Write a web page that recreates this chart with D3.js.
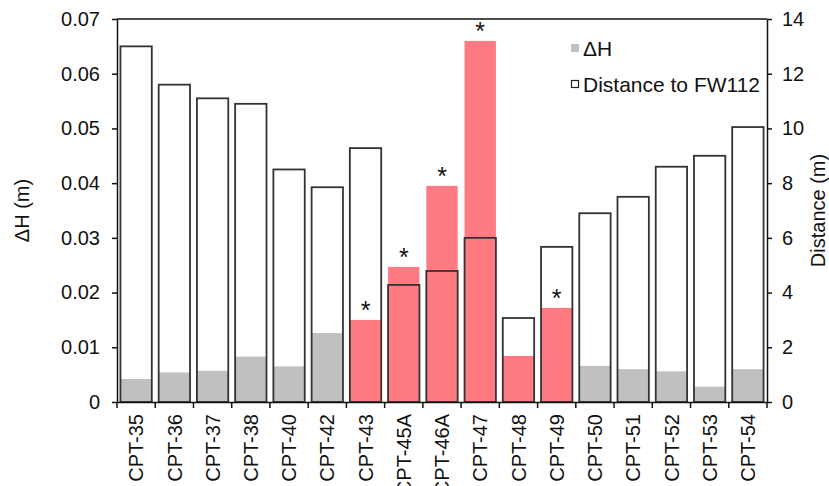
<!DOCTYPE html>
<html>
<head>
  <script src="https://d3js.org/d3.v7.min.js"></script>
  <style>
    body { margin: 0; background: #fff; }
    text { font-family: "Liberation Sans", Arial, sans-serif; fill: #111; }
  </style>
</head>
<body>
<svg width="829" height="486"></svg>
<script>
  // chart values
  const sites = ["CPT-35", "CPT-36", "CPT-37", "CPT-38", "CPT-40", "CPT-42", "CPT-43", "CPT-45A",
    "CPT-46A", "CPT-47", "CPT-48", "CPT-49", "CPT-50", "CPT-51", "CPT-52", "CPT-53", "CPT-54"];
  const deltaH = [0.0042, 0.0054, 0.0057, 0.0083, 0.0065, 0.0126, 0.015, 0.0247,
    0.0395, 0.066, 0.0084, 0.0172, 0.0066, 0.006, 0.0056, 0.0028, 0.006];
  const distance = [13.0, 11.6, 11.1, 10.9, 8.5, 7.85, 9.28, 4.28,
    4.79, 6.0, 3.07, 5.67, 6.9, 7.5, 8.6, 9.0, 10.05];
  const highlighted = ["CPT-43", "CPT-45A", "CPT-46A", "CPT-47", "CPT-48", "CPT-49"];
  const starred = ["CPT-43", "CPT-45A", "CPT-46A", "CPT-47", "CPT-49"];
  const leftTicks = [0, 0.01, 0.02, 0.03, 0.04, 0.05, 0.06, 0.07];
  const rightTicks = [0, 2, 4, 6, 8, 10, 12, 14];

  const data = sites.map((s, i) => ({ site: s, dh: deltaH[i], dist: distance[i] }));

  const margin = {top: 19, right: 62, bottom: 84, left: 117},
    width = 829 - margin.left - margin.right,
    height = 486 - margin.top - margin.bottom;

  const svg = d3.select("svg")
    .append("g")
    .attr("transform", "translate(" + margin.left + "," + margin.top + ")");

  const x = d3.scaleBand()
    .domain(sites)
    .range([0, width])
    .paddingInner(0.18)
    .paddingOuter(0.09);

  const y = d3.scaleLinear().domain([0, 0.07]).range([height, 0]);
  const y2 = d3.scaleLinear().domain([0, 14]).range([height, 0]);

  // filled ΔH bars
  svg.selectAll(".dh")
    .data(data)
    .join("rect")
      .attr("class", "dh")
      .attr("x", d => x(d.site))
      .attr("width", x.bandwidth())
      .attr("y", d => y(d.dh))
      .attr("height", d => height - y(d.dh))
      .attr("fill", d => highlighted.includes(d.site) ? "#ff7a81" : "#c0c0c0");

  // outlined distance bars on top
  svg.selectAll(".dist")
    .data(data)
    .join("rect")
      .attr("class", "dist")
      .attr("x", d => x(d.site))
      .attr("width", x.bandwidth())
      .attr("y", d => y2(d.dist))
      .attr("height", d => height - y2(d.dist))
      .attr("fill", "none")
      .attr("stroke", "#333")
      .attr("stroke-width", 1.8);

  // significance stars
  svg.selectAll(".star")
    .data(data.filter(d => starred.includes(d.site)))
    .join("text")
      .attr("class", "star")
      .attr("x", d => x(d.site) + x.bandwidth() / 2)
      .attr("y", d => y(d.dh) - 1)
      .attr("text-anchor", "middle")
      .style("font-size", "25px")
      .text("*");

  // axes
  const fmt = d => d === 0 ? "0" : d3.format(".2f")(d);
  const left = svg.append("g")
    .call(d3.axisLeft(y).tickValues(leftTicks).tickFormat(fmt).tickSize(5).tickSizeOuter(0).tickPadding(12));
  const right = svg.append("g")
    .attr("transform", "translate(" + width + ",0)")
    .call(d3.axisRight(y2).tickValues(rightTicks).tickSize(5).tickSizeOuter(0).tickPadding(10));
  const bottom = svg.append("g")
    .attr("transform", "translate(0," + height + ")")
    .call(d3.axisBottom(x).tickSize(0).tickSizeOuter(0).tickPadding(0));

  bottom.selectAll("text")
    .attr("transform", "rotate(-90)")
    .attr("text-anchor", "end")
    .attr("x", -12)
    .attr("y", 0)
    .attr("dy", "0.36em");

  // tick marks between categories
  const bounds = d3.range(sites.length + 1).map(i => i * x.step());
  bottom.selectAll(".bt")
    .data(bounds)
    .join("line")
      .attr("class", "bt")
      .attr("x1", d => d).attr("x2", d => d)
      .attr("y1", 0).attr("y2", 6)
      .attr("stroke", "#111").attr("stroke-width", 1.5);

  [left, right, bottom].forEach(g => {
    g.selectAll("text").style("font-size", "20px").style("font-family", "'Liberation Sans', Arial, sans-serif").attr("fill", "#111");
    g.selectAll("path, line").attr("stroke", "#111").attr("stroke-width", 1.5);
  });

  // top frame line
  svg.append("line")
    .attr("x1", 0).attr("x2", width)
    .attr("y1", 0).attr("y2", 0)
    .attr("stroke", "#111").attr("stroke-width", 1.5);

  // axis titles
  svg.append("text")
    .attr("transform", "translate(" + (-88) + "," + (height / 2) + ") rotate(-90)")
    .attr("text-anchor", "middle")
    .style("font-size", "20px")
    .text("ΔH (m)");
  svg.append("text")
    .attr("transform", "translate(" + (width + 58) + "," + (height / 2) + ") rotate(-90)")
    .attr("text-anchor", "middle")
    .style("font-size", "20px")
    .text("Distance (m)");

  // legend
  const legend = svg.append("g").attr("transform", "translate(454,30)");
  legend.append("rect")
    .attr("x", 0).attr("y", -5).attr("width", 8).attr("height", 8)
    .attr("fill", "#c0c0c0");
  legend.append("text")
    .attr("x", 12).attr("y", 0).attr("dy", "0.35em")
    .style("font-size", "21px")
    .text("ΔH");
  legend.append("rect")
    .attr("x", 0.5).attr("y", 31.5).attr("width", 7).attr("height", 7)
    .attr("fill", "none").attr("stroke", "#222").attr("stroke-width", 1.2);
  legend.append("text")
    .attr("x", 12).attr("y", 36).attr("dy", "0.35em")
    .style("font-size", "21px")
    .text("Distance to FW112");
</script>
</body>
</html>
